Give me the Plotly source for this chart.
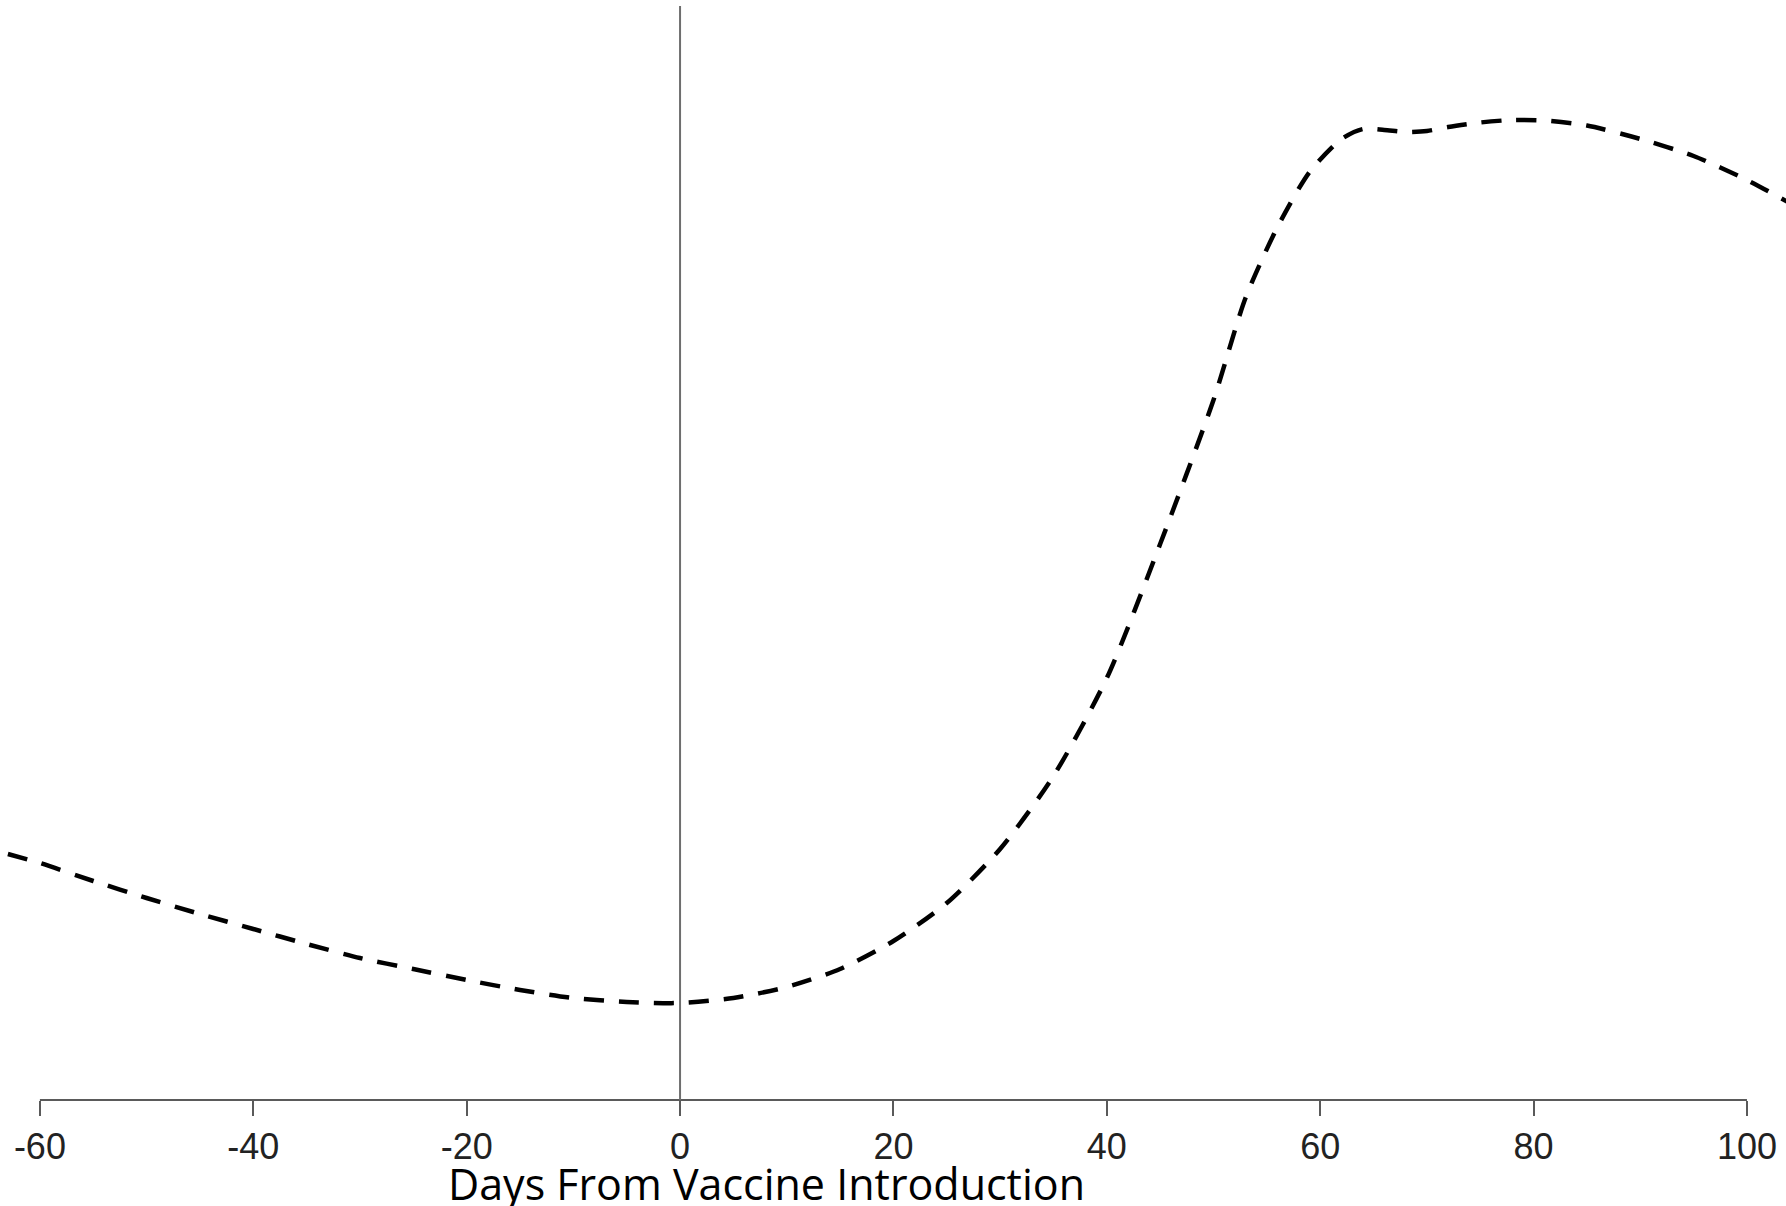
import plotly.graph_objects as go

# Days from vaccine introduction
days = [-63, -60, -55, -50, -45, -40, -35, -30, -25, -20, -15, -10, -5, 0,
        5, 10, 15, 20, 25, 30, 35, 40, 45, 50, 53, 56, 59, 62, 64, 66,
        68, 70, 72, 75, 78, 81, 85, 90, 95, 100, 104]
# Outcome (arbitrary units; y-axis is not shown)
values = [24.6, 23.7, 21.9, 20.2, 18.6, 17.1, 15.6, 14.2, 13.1, 12.0, 11.0, 10.2, 9.8, 9.7,
          10.2, 11.3, 13.1, 15.9, 19.7, 25.1, 32.4, 42.2, 55.6, 70.0, 80.2, 87.3, 92.8, 96.1, 97.1, 97.0,
          96.8, 96.9, 97.3, 97.75, 98.0, 97.95, 97.45, 96.1, 94.4, 92.0, 89.7]

tick_vals = [-60, -40, -20, 0, 20, 40, 60, 80, 100]
tick_text = ["-60", "-40", "-20", "0", "20", "40", "60", "80", "100"]
x_title = "Days From Vaccine Introduction"

fig = go.Figure()
fig.add_trace(go.Scatter(
    x=days, y=values, mode="lines",
    line=dict(color="black", width=4.5, dash="20px,15px", shape="spline", smoothing=0.7),
    showlegend=False, hoverinfo="skip",
))

# axis line spanning only -60..100
fig.add_shape(type="line", xref="x", yref="paper", x0=-60, x1=100, y0=0, y1=0,
              line=dict(color="#5a5a5a", width=2))
# vertical reference line at day 0
fig.add_shape(type="line", xref="x", yref="paper", x0=0, x1=0, y0=0, y1=0.9945,
              line=dict(color="#6e6e6e", width=2))

fig.add_annotation(text=x_title, xref="paper", yref="paper",
                   x=446 / 1786, y=-52 / 1100, xanchor="left", yanchor="top",
                   showarrow=False,
                   font=dict(family="Open Sans", size=43, color="black"))

fig.update_layout(
    width=1786, height=1206,
    margin=dict(l=0, r=0, t=0, b=106),
    paper_bgcolor="white", plot_bgcolor="white",
    xaxis=dict(range=[-63.74, 103.66], showgrid=False, zeroline=False, showline=False,
               tickmode="array", tickvals=tick_vals, ticktext=tick_text,
               ticks="outside", ticklen=15, tickwidth=2, tickcolor="#5a5a5a",
               tickfont=dict(family="Liberation Sans", size=36, color="#222222")),
    yaxis=dict(range=[0, 110], visible=False, showgrid=False, zeroline=False),
)

fig.write_html("out.html", config={"displayModeBar": False},
               post_script="document.body.style.margin='0';document.body.style.overflow='hidden';")
